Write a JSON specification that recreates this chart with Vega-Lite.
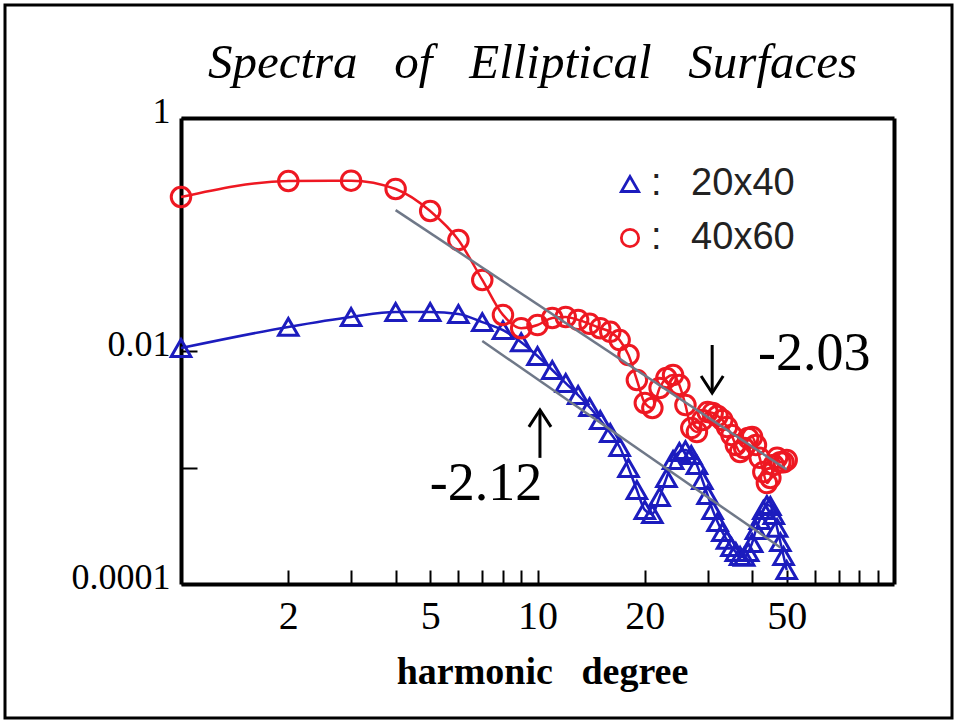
{
  "$schema": "https://vega.github.io/schema/vega-lite/v6.json",
  "width": 947,
  "height": 713,
  "autosize": "none",
  "padding": {"left": 5, "top": 5, "right": 6, "bottom": 6},
  "background": "white",
  "config": {
    "view": {"stroke": "black", "strokeWidth": 3},
    "axis": {"grid": false, "domainColor": "black", "domainWidth": 4, "tickColor": "black", "tickWidth": 2, "labelFont": "Liberation Serif", "labelColor": "black", "titleColor": "black"}
  },
  "datasets": {
    "spectra": [
      {"series": "20x40", "n": 1, "value": 0.0106},
      {"series": "20x40", "n": 2, "value": 0.0161},
      {"series": "20x40", "n": 3, "value": 0.0196},
      {"series": "20x40", "n": 4, "value": 0.0216},
      {"series": "20x40", "n": 5, "value": 0.0216},
      {"series": "20x40", "n": 6, "value": 0.0208},
      {"series": "20x40", "n": 7, "value": 0.0177},
      {"series": "20x40", "n": 8, "value": 0.0151},
      {"series": "20x40", "n": 9, "value": 0.0119},
      {"series": "20x40", "n": 10, "value": 0.00906},
      {"series": "20x40", "n": 11, "value": 0.00687},
      {"series": "20x40", "n": 12, "value": 0.00531},
      {"series": "20x40", "n": 13, "value": 0.00419},
      {"series": "20x40", "n": 14, "value": 0.0033},
      {"series": "20x40", "n": 15, "value": 0.00256},
      {"series": "20x40", "n": 16, "value": 0.00198},
      {"series": "20x40", "n": 17, "value": 0.0015},
      {"series": "20x40", "n": 18, "value": 0.00099},
      {"series": "20x40", "n": 19, "value": 0.000641},
      {"series": "20x40", "n": 20, "value": 0.000432},
      {"series": "20x40", "n": 21, "value": 0.000399},
      {"series": "20x40", "n": 22, "value": 0.000558},
      {"series": "20x40", "n": 23, "value": 0.000813},
      {"series": "20x40", "n": 24, "value": 0.00116},
      {"series": "20x40", "n": 25, "value": 0.00136},
      {"series": "20x40", "n": 26, "value": 0.00141},
      {"series": "20x40", "n": 27, "value": 0.00128},
      {"series": "20x40", "n": 28, "value": 0.00105},
      {"series": "20x40", "n": 29, "value": 0.000781},
      {"series": "20x40", "n": 30, "value": 0.000581},
      {"series": "20x40", "n": 31, "value": 0.000432},
      {"series": "20x40", "n": 32, "value": 0.00034},
      {"series": "20x40", "n": 33, "value": 0.000279},
      {"series": "20x40", "n": 34, "value": 0.000239},
      {"series": "20x40", "n": 35, "value": 0.000208},
      {"series": "20x40", "n": 36, "value": 0.000188},
      {"series": "20x40", "n": 37, "value": 0.000174},
      {"series": "20x40", "n": 38, "value": 0.000171},
      {"series": "20x40", "n": 39, "value": 0.000188},
      {"series": "20x40", "n": 40, "value": 0.000225},
      {"series": "20x40", "n": 41, "value": 0.000291},
      {"series": "20x40", "n": 42, "value": 0.000354},
      {"series": "20x40", "n": 43, "value": 0.000432},
      {"series": "20x40", "n": 44, "value": 0.000476},
      {"series": "20x40", "n": 45, "value": 0.000467},
      {"series": "20x40", "n": 46, "value": 0.000391},
      {"series": "20x40", "n": 47, "value": 0.000303},
      {"series": "20x40", "n": 48, "value": 0.000229},
      {"series": "20x40", "n": 49, "value": 0.000174},
      {"series": "20x40", "n": 50, "value": 0.000132},
      {"series": "40x60", "n": 1, "value": 0.21},
      {"series": "40x60", "n": 2, "value": 0.288},
      {"series": "40x60", "n": 3, "value": 0.29},
      {"series": "40x60", "n": 4, "value": 0.246},
      {"series": "40x60", "n": 5, "value": 0.159},
      {"series": "40x60", "n": 6, "value": 0.0897},
      {"series": "40x60", "n": 7, "value": 0.0407},
      {"series": "40x60", "n": 8, "value": 0.0204},
      {"series": "40x60", "n": 9, "value": 0.0157},
      {"series": "40x60", "n": 10, "value": 0.0167},
      {"series": "40x60", "n": 11, "value": 0.0192},
      {"series": "40x60", "n": 12, "value": 0.0196},
      {"series": "40x60", "n": 13, "value": 0.0185},
      {"series": "40x60", "n": 14, "value": 0.0171},
      {"series": "40x60", "n": 15, "value": 0.0157},
      {"series": "40x60", "n": 16, "value": 0.0146},
      {"series": "40x60", "n": 17, "value": 0.0124},
      {"series": "40x60", "n": 18, "value": 0.00924},
      {"series": "40x60", "n": 19, "value": 0.00564},
      {"series": "40x60", "n": 20, "value": 0.00358},
      {"series": "40x60", "n": 21, "value": 0.00324},
      {"series": "40x60", "n": 22, "value": 0.00481},
      {"series": "40x60", "n": 23, "value": 0.00586},
      {"series": "40x60", "n": 24, "value": 0.00622},
      {"series": "40x60", "n": 25, "value": 0.00511},
      {"series": "40x60", "n": 26, "value": 0.00344},
      {"series": "40x60", "n": 27, "value": 0.00218},
      {"series": "40x60", "n": 28, "value": 0.00202},
      {"series": "40x60", "n": 29, "value": 0.00256},
      {"series": "40x60", "n": 30, "value": 0.00299},
      {"series": "40x60", "n": 31, "value": 0.00294},
      {"series": "40x60", "n": 32, "value": 0.00277},
      {"series": "40x60", "n": 33, "value": 0.00256},
      {"series": "40x60", "n": 34, "value": 0.00223},
      {"series": "40x60", "n": 35, "value": 0.0019},
      {"series": "40x60", "n": 36, "value": 0.00156},
      {"series": "40x60", "n": 37, "value": 0.00136},
      {"series": "40x60", "n": 38, "value": 0.00147},
      {"series": "40x60", "n": 39, "value": 0.00179},
      {"series": "40x60", "n": 40, "value": 0.00183},
      {"series": "40x60", "n": 41, "value": 0.00156},
      {"series": "40x60", "n": 42, "value": 0.00121},
      {"series": "40x60", "n": 43, "value": 0.000914},
      {"series": "40x60", "n": 44, "value": 0.000736},
      {"series": "40x60", "n": 45, "value": 0.000813},
      {"series": "40x60", "n": 46, "value": 0.00105},
      {"series": "40x60", "n": 47, "value": 0.00121},
      {"series": "40x60", "n": 48, "value": 0.00111},
      {"series": "40x60", "n": 49, "value": 0.00111},
      {"series": "40x60", "n": 50, "value": 0.00116}
    ],
    "fits": [
      {"fit": "40x60", "n": 4, "value": 0.162},
      {"fit": "40x60", "n": 50, "value": 0.000961},
      {"fit": "20x40", "n": 7, "value": 0.01218},
      {"fit": "20x40", "n": 48, "value": 0.000206}
    ],
    "arrows": [
      {"dir": "down", "n": 30.9, "start": 0.01126, "tip": 0.00436},
      {"dir": "up", "n": 10.16, "start": 0.00121, "tip": 0.00312}
    ],
    "slopes": [
      {"label": "-2.03", "n": 59.7, "value": 0.00687},
      {"label": "-2.12", "n": 7.17, "value": 0.000526}
    ]
  },
  "layer": [
    {
      "data": {"name": "spectra"},
      "mark": {"type": "line", "interpolate": "monotone", "strokeWidth": 2.5},
      "encoding": {
        "x": {
          "field": "n", "type": "quantitative",
          "scale": {"type": "log", "domain": [1, 100], "range": [176, 889], "nice": false},
          "axis": {
            "orient": "bottom", "offset": -134,
            "values": [2, 3, 4, 5, 6, 7, 8, 9, 10, 20, 30, 40, 50, 60, 70, 80, 90],
            "tickSize": -14, "labelPadding": 26, "labelFontSize": 40,
            "labelExpr": "datum.value == 2 || datum.value == 5 || datum.value == 10 || datum.value == 20 || datum.value == 50 ? '' + datum.value : ''",
            "title": "harmonic \u2002degree", "titleFont": "Liberation Serif", "titleFontSize": 38, "titleFontWeight": "bold",
            "titleX": 537, "titleY": 99, "titleAlign": "center", "titleBaseline": "alphabetic"
          }
        },
        "y": {
          "field": "value", "type": "quantitative",
          "scale": {"type": "log", "domain": [0.0001, 1], "range": [579, 113], "nice": false},
          "axis": {
            "orient": "left", "offset": -176,
            "values": [0.0001, 0.001, 0.01, 1],
            "tickSize": -16, "labelPadding": 27, "labelFontSize": 36, "labelOffset": -7,
            "labelExpr": "datum.value == 1 ? '1' : datum.value == 0.01 ? '0.01' : datum.value == 0.0001 ? '0.0001' : ''",
            "title": null
          }
        },
        "color": {"field": "series", "type": "nominal", "scale": {"domain": ["20x40", "40x60"], "range": ["#1c1cbe", "#ee1822"]}, "legend": null}
      }
    },
    {
      "data": {"name": "spectra"},
      "mark": {"type": "point", "filled": false, "strokeWidth": 3, "size": 380, "opacity": 1},
      "encoding": {
        "x": {
          "field": "n", "type": "quantitative",
          "axis": {
            "orient": "top", "offset": -113, "labels": false, "ticks": false, "domain": true,
            "title": "Spectra \u2002of \u2002Elliptical \u2002Surfaces", "titleFont": "Liberation Serif", "titleFontStyle": "italic", "titleFontWeight": "normal", "titleFontSize": 49,
            "titleX": 527, "titleY": -41, "titleAlign": "center", "titleBaseline": "alphabetic"
          }
        },
        "y": {
          "field": "value", "type": "quantitative",
          "axis": {"orient": "right", "offset": -58, "labels": false, "ticks": false, "domain": true, "title": null}
        },
        "color": {
          "field": "series", "type": "nominal",
          "legend": {"title": null, "orient": "none", "legendX": 606, "legendY": 160, "labelFont": "Liberation Sans", "labelFontSize": 38, "labelColor": "#222222", "labelExpr": "': \u2002' + datum.label", "symbolStrokeWidth": 2.8, "symbolSize": 300, "labelOffset": 2, "rowPadding": 16}
        },
        "shape": {
          "field": "series", "type": "nominal",
          "scale": {"domain": ["20x40", "40x60"], "range": ["triangle-up", "circle"]},
          "legend": {"title": null, "orient": "none", "legendX": 606, "legendY": 160, "labelFont": "Liberation Sans", "labelFontSize": 38, "labelColor": "#222222", "labelExpr": "': \u2002' + datum.label", "symbolStrokeWidth": 2.8, "symbolSize": 300, "labelOffset": 2, "rowPadding": 16}
        }
      }
    },
    {
      "data": {"name": "fits"},
      "mark": {"type": "line", "color": "#6f7888", "strokeWidth": 2.5},
      "encoding": {
        "x": {"field": "n", "type": "quantitative", "axis": null},
        "y": {"field": "value", "type": "quantitative", "axis": null},
        "detail": {"field": "fit", "type": "nominal"}
      }
    },
    {
      "data": {"name": "arrows"},
      "mark": {"type": "rule", "color": "black", "strokeWidth": 3},
      "encoding": {
        "x": {"field": "n", "type": "quantitative", "axis": null},
        "y": {"field": "start", "type": "quantitative", "axis": null},
        "y2": {"field": "tip"}
      }
    },
    {
      "data": {"name": "arrows"},
      "transform": [{"filter": "datum.dir == 'down'"}],
      "mark": {"type": "point", "shape": "M-0.65,-1L0,0L0.65,-1", "filled": false, "color": "black", "strokeWidth": 3, "size": 1156, "opacity": 1},
      "encoding": {
        "x": {"field": "n", "type": "quantitative", "axis": null},
        "y": {"field": "tip", "type": "quantitative", "axis": null}
      }
    },
    {
      "data": {"name": "arrows"},
      "transform": [{"filter": "datum.dir == 'up'"}],
      "mark": {"type": "point", "shape": "M-0.65,1L0,0L0.65,1", "filled": false, "color": "black", "strokeWidth": 3, "size": 1156, "opacity": 1},
      "encoding": {
        "x": {"field": "n", "type": "quantitative", "axis": null},
        "y": {"field": "tip", "type": "quantitative", "axis": null}
      }
    },
    {
      "data": {"name": "slopes"},
      "mark": {"type": "text", "font": "Liberation Serif", "fontSize": 54, "align": "center", "baseline": "alphabetic", "color": "black"},
      "encoding": {
        "x": {"field": "n", "type": "quantitative", "axis": null},
        "y": {"field": "value", "type": "quantitative", "axis": null},
        "text": {"field": "label", "type": "nominal"}
      }
    }
  ],
  "resolve": {"axis": {"x": "independent", "y": "independent"}, "legend": {"color": "independent", "shape": "independent"}}
}
